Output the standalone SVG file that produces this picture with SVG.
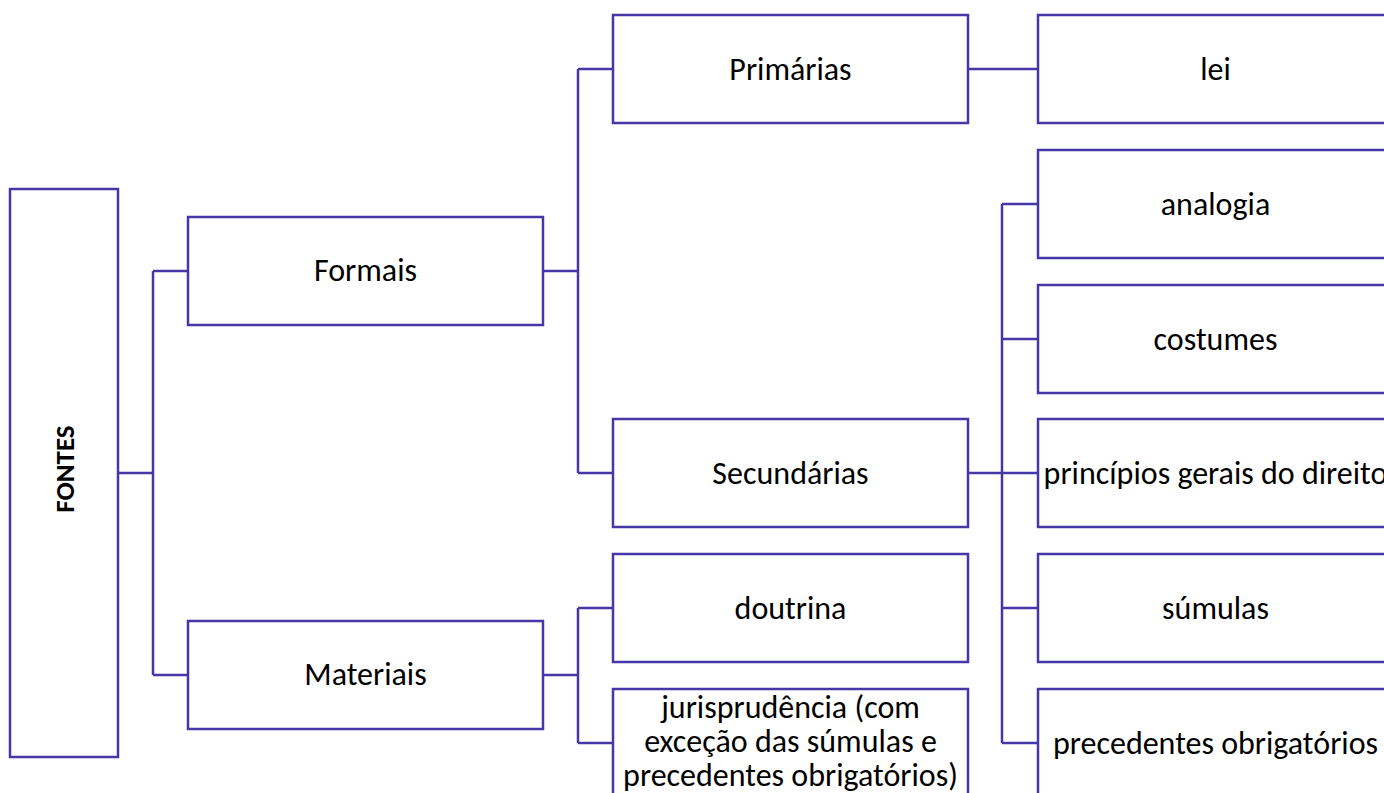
<svg xmlns="http://www.w3.org/2000/svg" width="1384" height="793" viewBox="0 0 1384 793">
<style>
.box{fill:#ffffff;stroke:#4637a6;stroke-width:2.5}
.ln{fill:none;stroke:#4637a6;stroke-width:2.5}
.t{font-family:Carlito,Calibri,Lato,sans-serif;font-size:32px;fill:#000000;text-anchor:middle}
.b{font-family:Carlito,Calibri,Lato,sans-serif;font-size:27px;font-weight:bold;fill:#000000;text-anchor:middle}
</style>
<rect width="1384" height="793" fill="#ffffff"/>
<g id="connectors">
<path class="ln" d="M118,473 H153 M153,271 V675 M153,271 H188 M153,675 H188"/>
<path class="ln" d="M543,271 H578 M578,69 V473 M578,69 H613 M578,473 H613"/>
<path class="ln" d="M543,675 H578 M578,608 V743 M578,608 H613 M578,743 H613"/>
<path class="ln" d="M968,69 H1038"/>
<path class="ln" d="M968,473 H1002 M1002,204 V743 M1002,204 H1038 M1002,339 H1038 M1002,473 H1038 M1002,608 H1038 M1002,743 H1038"/>
</g>
<g id="fontes"><rect class="box" x="10" y="189" width="108" height="568"/><text class="b" transform="translate(74,469) rotate(-90)" x="0" y="0">FONTES</text></g>
<g id="formais"><rect class="box" x="188" y="217" width="355" height="108"/><text class="t" x="365.5" y="281">Formais</text></g>
<g id="materiais"><rect class="box" x="188" y="621" width="355" height="108"/><text class="t" x="365.5" y="685">Materiais</text></g>
<g id="primarias"><rect class="box" x="613" y="15" width="355" height="108"/><text class="t" x="790.5" y="80">Primárias</text></g>
<g id="secundarias"><rect class="box" x="613" y="419" width="355" height="108"/><text class="t" x="790.5" y="484">Secundárias</text></g>
<g id="doutrina"><rect class="box" x="613" y="554" width="355" height="108"/><text class="t" x="790.5" y="619">doutrina</text></g>
<g id="jurisprudencia"><rect class="box" x="613" y="689" width="355" height="108"/><text class="t" x="790.5" y="718">jurisprudência (com</text><text class="t" x="790.5" y="752">exceção das súmulas e</text><text class="t" x="790.5" y="786">precedentes obrigatórios)</text></g>
<g id="lei"><rect class="box" x="1038" y="15" width="355" height="108"/><text class="t" x="1215.5" y="80">lei</text></g>
<g id="analogia"><rect class="box" x="1038" y="150" width="355" height="108"/><text class="t" x="1215.5" y="215">analogia</text></g>
<g id="costumes"><rect class="box" x="1038" y="285" width="355" height="108"/><text class="t" x="1215.5" y="350">costumes</text></g>
<g id="principios"><rect class="box" x="1038" y="419" width="355" height="108"/><text class="t" x="1215.5" y="484">princípios gerais do direito</text></g>
<g id="sumulas"><rect class="box" x="1038" y="554" width="355" height="108"/><text class="t" x="1215.5" y="619">súmulas</text></g>
<g id="precedentes"><rect class="box" x="1038" y="689" width="355" height="108"/><text class="t" x="1215.5" y="754">precedentes obrigatórios</text></g>
</svg>
